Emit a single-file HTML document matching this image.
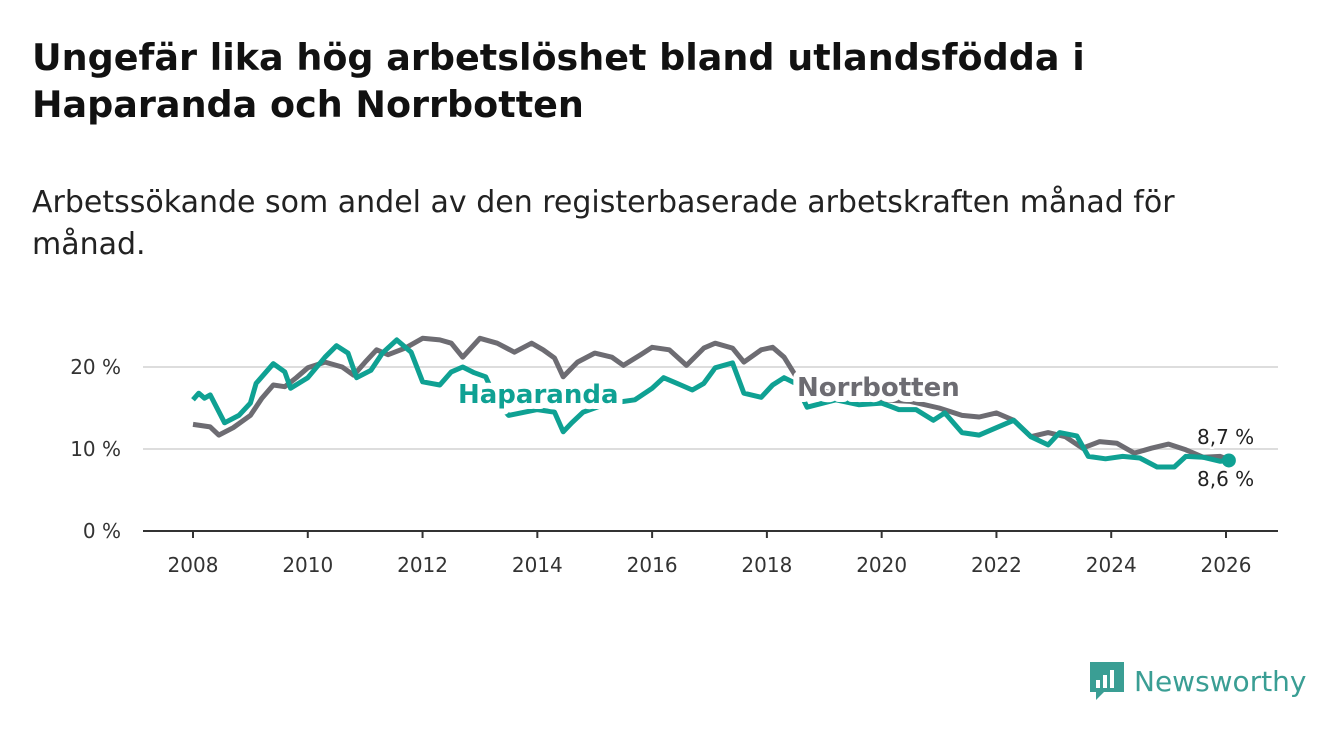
<!DOCTYPE html>
<html><head><meta charset="utf-8"><style>
body{margin:0;width:1340px;height:734px;background:#fff;font-family:"DejaVu Sans","Liberation Sans",sans-serif;overflow:hidden;position:relative}
h1{position:absolute;left:32px;top:34px;margin:0;font-size:36.5px;line-height:47px;font-weight:bold;color:#111;white-space:nowrap}
.sub{position:absolute;left:32px;top:182px;margin:0;font-size:30px;line-height:42px;color:#222;white-space:nowrap}
svg{position:absolute;left:0;top:0}
</style></head><body>
<h1>Ungefär lika hög arbetslöshet bland utlandsfödda i<br>Haparanda och Norrbotten</h1>
<p class="sub">Arbetssökande som andel av den registerbaserade arbetskraften månad för<br>månad.</p>
<svg id="chart" width="1340" height="734" style="font-family:'DejaVu Sans','Liberation Sans',sans-serif"></svg>
<div style="position:absolute;left:1088px;top:660px;display:flex;align-items:center">
<svg width="38" height="42" style="position:static"><path d="M2 2h34v30H16l-8 8v-8H2z" fill="#3a9e94"/><rect x="8" y="20" width="4" height="8" fill="#fff"/><rect x="15" y="15" width="4" height="13" fill="#fff"/><rect x="22" y="10" width="4" height="18" fill="#fff"/></svg>
<span style="font-size:28px;color:#3a9e94;margin-left:8px;font-family:'DejaVu Sans',sans-serif">Newsworthy</span></div>
<script>
const yTicks=[0,10,20];
const xTicks=[2008,2010,2012,2014,2016,2018,2020,2022,2024,2026];
const norrYears=[2008,2008.3,2008.45,2008.7,2009,2009.2,2009.4,2009.6,2009.8,2010,2010.3,2010.6,2010.8,2011,2011.2,2011.4,2011.7,2012,2012.3,2012.5,2012.7,2013,2013.3,2013.6,2013.9,2014.1,2014.3,2014.45,2014.7,2015,2015.3,2015.5,2015.8,2016,2016.3,2016.6,2016.9,2017.1,2017.4,2017.6,2017.9,2018.1,2018.3,2018.6,2019,2019.5,2020,2020.5,2021,2021.4,2021.7,2022,2022.3,2022.6,2022.9,2023.2,2023.5,2023.8,2024.1,2024.4,2024.7,2025,2025.3,2025.6,2025.9,2026.05];
const norrVals=[13.0,12.7,11.7,12.6,14.1,16.2,17.8,17.6,18.7,19.9,20.6,20.0,19.0,20.6,22.1,21.5,22.3,23.5,23.3,22.9,21.2,23.5,22.9,21.8,22.9,22.1,21.1,18.8,20.6,21.7,21.2,20.2,21.5,22.4,22.1,20.2,22.3,22.9,22.3,20.6,22.1,22.4,21.2,17.8,17.0,16.5,16.0,15.8,15.0,14.1,13.9,14.4,13.5,11.5,12.0,11.5,10.1,10.9,10.7,9.5,10.1,10.6,9.9,9.0,9.1,8.7];
const hapYears=[2008,2008.1,2008.2,2008.3,2008.55,2008.8,2009,2009.1,2009.4,2009.6,2009.7,2010,2010.3,2010.5,2010.7,2010.85,2011.1,2011.3,2011.55,2011.8,2012,2012.3,2012.5,2012.7,2012.9,2013.1,2013.3,2013.5,2014,2014.3,2014.45,2014.6,2014.8,2015.2,2015.7,2016,2016.2,2016.5,2016.7,2016.9,2017.1,2017.4,2017.6,2017.9,2018.1,2018.3,2018.5,2018.7,2019.2,2019.6,2020,2020.3,2020.6,2020.9,2021.1,2021.4,2021.7,2022,2022.3,2022.6,2022.9,2023.1,2023.4,2023.6,2023.9,2024.2,2024.5,2024.8,2025.1,2025.3,2025.6,2025.9,2026.05];
const hapVals=[16.0,16.8,16.2,16.6,13.2,14.1,15.6,18.0,20.4,19.4,17.4,18.7,21.2,22.6,21.7,18.7,19.6,21.7,23.3,21.8,18.2,17.8,19.4,20.0,19.3,18.8,15.7,14.1,14.8,14.5,12.1,13.2,14.5,15.5,16.0,17.4,18.7,17.8,17.2,18.0,19.9,20.5,16.8,16.3,17.8,18.7,18.0,15.1,16.0,15.4,15.6,14.8,14.8,13.5,14.4,12.0,11.7,12.6,13.5,11.5,10.5,12.0,11.6,9.1,8.8,9.1,8.9,7.8,7.8,9.1,9.0,8.5,8.6];
const NS="http://www.w3.org/2000/svg";
const svg=document.getElementById('chart');
const X=y=>193+(y-2008)*(1226-193)/18;
const Y=v=>531-v*8.2;
function mk(t,a,parent){const e=document.createElementNS(NS,t);for(const k in a)e.setAttribute(k,a[k]);(parent||svg).appendChild(e);return e;}
yTicks.forEach(v=>{
 if(v>0){const g=mk('line',{x1:143,x2:1278,y1:Y(v),y2:Y(v),stroke:'#ddd','stroke-width':2});
 
 }
 const t=mk('text',{x:121,y:Y(v)+7,'text-anchor':'end','font-size':20,fill:'#333'});t.textContent=v+' %';
 
 
});
const ax=mk('line',{x1:143,x2:1278,y1:531,y2:531,stroke:'#333','stroke-width':2});


xTicks.forEach(y=>{
 const tk=mk('line',{x1:X(y),x2:X(y),y1:531,y2:538,stroke:'#333','stroke-width':2});
 
 
 const t=mk('text',{x:X(y),y:572,'text-anchor':'middle','font-size':20,fill:'#333'});t.textContent=y;
 
 
});
function line(xs,vs,col,name){
 const d=xs.map((x,i)=>(i?'L':'M')+X(x).toFixed(1)+' '+Y(vs[i]).toFixed(1)).join(' ');
 const p=mk('path',{d:d,fill:'none',stroke:col,'stroke-width':5,'stroke-linejoin':'round'});
 
 
}
line(norrYears,norrVals,'#6d6c72','norrbotten-line');
line(hapYears,hapVals,'#0fa193','haparanda-line');
const dot=mk('circle',{cx:X(hapYears[hapYears.length-1]),cy:Y(hapVals[hapVals.length-1]),r:7,fill:'#0fa193'});


function lab(x,y,txt,col,name,size,bold){
 const t=mk('text',{x:x,y:y,'font-size':size,'font-weight':bold?'bold':'normal',fill:col,stroke:'#fff','stroke-width':bold?12:5,'paint-order':'stroke','stroke-linejoin':'round'});
 t.textContent=txt;
 
 
}
lab(458,403,'Haparanda','#0fa193','haparanda-label',26,true);
lab(797,396,'Norrbotten','#6d6c72','norrbotten-label',26,true);
lab(1197,444,'8,7 %','#222','norrbotten-end-value',20,false);
lab(1197,486,'8,6 %','#222','haparanda-end-value',20,false);
</script>
</body></html>
